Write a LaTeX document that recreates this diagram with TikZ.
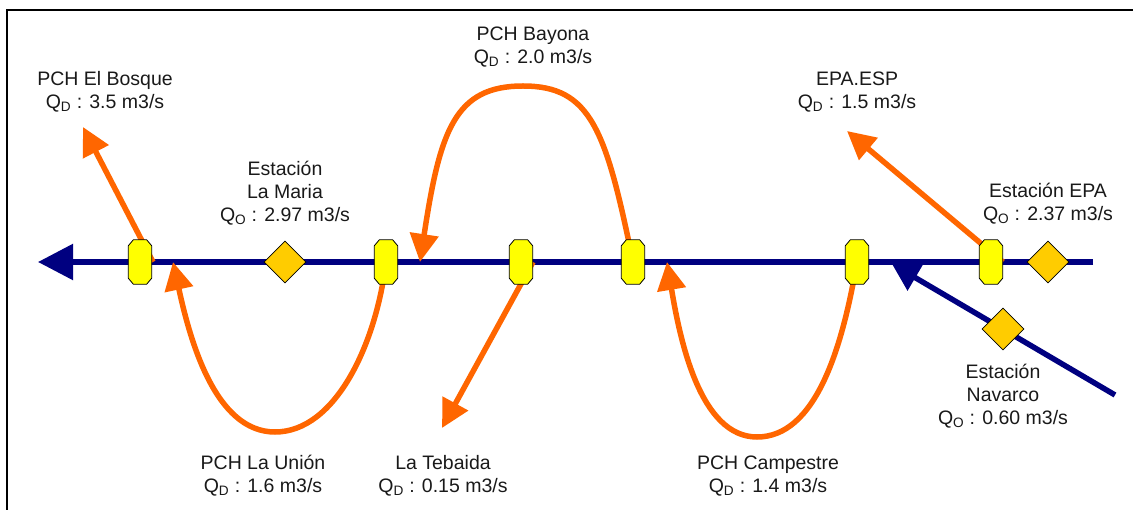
\documentclass[tikz,border=0pt]{standalone}
\usepackage{fontspec}
\setmainfont{Liberation Sans}
\usetikzlibrary{arrows.meta,shapes.geometric}
\definecolor{rivercol}{HTML}{000080}
\definecolor{flowcol}{HTML}{FF6600}
\definecolor{gatecol}{HTML}{FFFF00}
\definecolor{stationcol}{HTML}{FFCC00}
\pgfdeclarelayer{background}
\pgfsetlayers{background,main}

\begin{document}
\begin{tikzpicture}[x=1pt,y=-1pt,
  river/.style={draw=rivercol,line width=5.5pt},
  flowline/.style={draw=flowcol,line width=5.5pt,-{Triangle[length=28pt,width=28pt]}},
  gate/.style={rectangle,minimum width=23pt,minimum height=44pt,inner sep=0pt},
  gateoutline/.style={fill=gatecol,draw=black,line width=0.8pt,line join=round},
  station/.style={diamond,aspect=1,minimum width=42pt,minimum height=42pt,inner sep=0pt,
    fill=stationcol,draw=black,line width=0.8pt},
  lbl/.style={align=center,inner sep=0pt,text=black!90,font=\fontsize{19.5}{23}\selectfont}]

\useasboundingbox (0,0) rectangle (1133,510);

% frame
\draw[line width=2.5pt] (7,510) -- (7,10) -- (1133,10);

% gates on the river
\node[gate] (g1) at (140,262) {};
\node[gate] (g2) at (386,262) {};
\node[gate] (g3) at (521,262) {};
\node[gate] (g4) at (633,262) {};
\node[gate] (g5) at (857,262) {};
\node[gate] (g6) at (991,262) {};
% octagonal outline of each gate
\foreach \g in {g1,g2,g3,g4,g5,g6}
  \draw[gateoutline] ([xshift=5pt]\g.north west) -- ([xshift=-5pt]\g.north east)
    -- ([yshift=-6pt]\g.north east) -- ([yshift=6pt]\g.south east)
    -- ([xshift=-5pt]\g.south east) -- ([xshift=5pt]\g.south west)
    -- ([yshift=6pt]\g.south west) -- ([yshift=-6pt]\g.north west) -- cycle;

% gauging stations
\node[station] (d1) at (285,262) {};
\node[station] (d2) at (1048,262) {};
\node[station] (d3) at (1003,329) {};

% end points of the open connectors
\coordinate (riverSrc) at (1093,262);
\coordinate (riverMouth) at (38,262);
\coordinate (navSrc) at (1115,395);
\coordinate (navTip) at (892,264);
\coordinate (bosqueTip) at (83,127);
\coordinate (unionTip) at (173,262);
\coordinate (bayonaTip) at (420,262);
\coordinate (tebaidaTip) at (442,428);
\coordinate (campTip) at (667,262);
\coordinate (espTip) at (847,131);

\begin{pgfonlayer}{background}
  % main river and the Navarco tributary
  \draw[river,-{Triangle[length=35pt,width=35pt]}] (riverSrc) -- (riverMouth);
  \draw[river,-{Triangle[length=27pt,width=29pt]}] (navSrc) -- (navTip);
  % diversions and returns
  \draw[flowline] ([xshift=13pt]g1.center) -- (bosqueTip);
  \draw[flowline] (g2.center) .. controls (376,345) and (335,432) .. (275,432)
                  .. controls (215,432) and (190,340) .. (unionTip);
  \draw[flowline] (g4.center) .. controls (606,130) and (591,86) .. (523,86)
                  .. controls (455,86) and (440,130) .. (bayonaTip);
  \draw[flowline] ([xshift=12pt]g3.center) -- (tebaidaTip);
  \draw[flowline] (g5.center) .. controls (842,350) and (815,437) .. (757,437)
                  .. controls (700,437) and (680,340) .. (campTip);
  \draw[flowline] ([xshift=12pt]g6.center) -- (espTip);
\end{pgfonlayer}

% labels
\node[lbl] (lBosque) at (105,92) {PCH El Bosque\\Q\textsubscript{D} : 3.5 m3/s};
\node[lbl] (lMaria) at (285,193) {Estación\\La Maria\\Q\textsubscript{O} : 2.97 m3/s};
\node[lbl] (lBayona) at (533,47) {PCH Bayona\\Q\textsubscript{D} : 2.0 m3/s};
\node[lbl] (lEsp) at (857,92) {EPA.ESP\\Q\textsubscript{D} : 1.5 m3/s};
\node[lbl] (lEpa) at (1048,204) {Estación EPA\\Q\textsubscript{O} : 2.37 m3/s};
\node[lbl] (lNav) at (1003,396) {Estación\\Navarco\\Q\textsubscript{O} : 0.60 m3/s};
\node[lbl] (lUnion) at (263,476) {PCH La Unión\\Q\textsubscript{D} : 1.6 m3/s};
\node[lbl] (lTebaida) at (443,476) {La Tebaida\\Q\textsubscript{D} : 0.15 m3/s};
\node[lbl] (lCamp) at (768,476) {PCH Campestre\\Q\textsubscript{D} : 1.4 m3/s};
\end{tikzpicture}
\end{document}
